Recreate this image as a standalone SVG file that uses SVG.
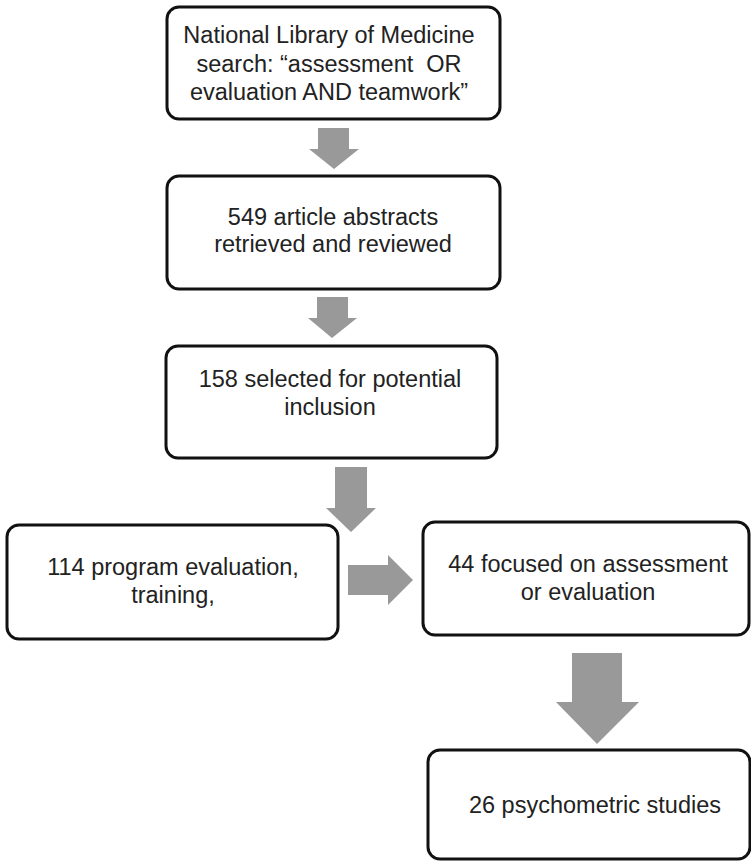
<svg xmlns="http://www.w3.org/2000/svg" width="751" height="861" viewBox="0 0 751 861">
<style>
.box{fill:#fff;stroke:#111;stroke-width:3}
.t{font-family:"Liberation Sans",Arial,sans-serif;font-size:23.5px;fill:#222;text-anchor:middle}
.arr{fill:#999;stroke:none}
</style>
<rect width="751" height="861" fill="#fff"/>
<g id="connectors">
<polygon class="arr" points="318,128 349,128 349,149 359,149 334,169 309,149 318,149"/>
<polygon class="arr" points="317,297 348,297 348,318 357,318 332,338 308,318 317,318"/>
<polygon class="arr" points="335,467 367,467 367,508 376,508 351,532 326,508 335,508"/>
<polygon class="arr" points="348,565 388,565 388,555 413,580 388,605 388,595 348,595"/>
<polygon class="arr" points="572,653 622,653 622,702 639,702 597,744 556,702 572,702"/>
</g>
<g id="n1">
<rect class="box" x="167" y="7" width="333" height="112" rx="12"/>
<text class="t" x="329" y="43">National Library of Medicine</text>
<text class="t" x="329" y="72" xml:space="preserve">search: “assessment  OR</text>
<text class="t" x="329" y="100">evaluation AND teamwork”</text>
</g>
<g id="n2">
<rect class="box" x="167" y="176" width="333" height="113" rx="12"/>
<text class="t" x="333" y="225">549 article abstracts</text>
<text class="t" x="333" y="252">retrieved and reviewed</text>
</g>
<g id="n3">
<rect class="box" x="166" y="346" width="331" height="112" rx="12"/>
<text class="t" x="330" y="387">158 selected for potential</text>
<text class="t" x="330" y="415">inclusion</text>
</g>
<g id="n4">
<rect class="box" x="7" y="525" width="331" height="114" rx="12"/>
<text class="t" x="173" y="575">114 program evaluation,</text>
<text class="t" x="173" y="603">training,</text>
</g>
<g id="n5">
<rect class="box" x="423" y="522" width="326" height="113" rx="12"/>
<text class="t" x="588" y="572">44 focused on assessment</text>
<text class="t" x="588" y="600">or evaluation</text>
</g>
<g id="n6">
<rect class="box" x="428" y="750" width="322" height="109" rx="12"/>
<text class="t" x="595" y="813">26 psychometric studies</text>
</g>
</svg>
